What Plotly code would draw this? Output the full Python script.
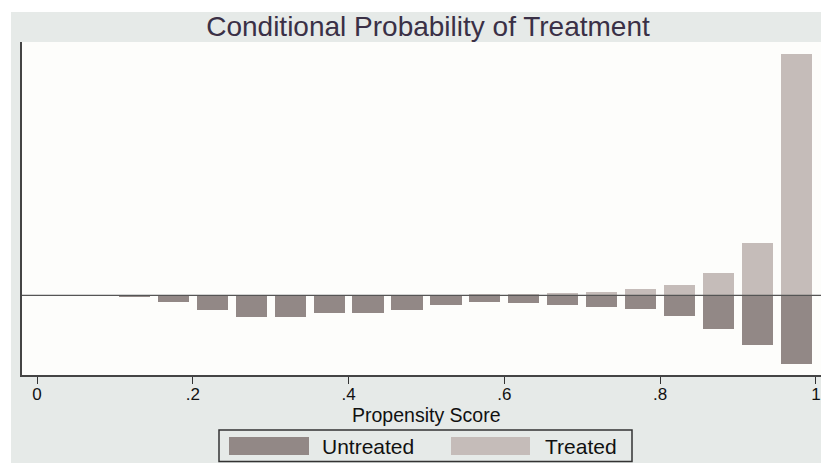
import plotly.graph_objects as go

# ---- data (bin centres of width .05, bar heights) ----
bin_centers = [0.025, 0.075, 0.125, 0.175, 0.225, 0.275, 0.325, 0.375, 0.425, 0.475,
               0.525, 0.575, 0.625, 0.675, 0.725, 0.775, 0.825, 0.875, 0.925, 0.975]
untreated = [0, 0.5, 1, 7, 15, 22, 21.5, 18, 17.4, 14.5,
             9.5, 7, 8, 9.5, 11.5, 14, 21, 33.5, 49.5, 69]
treated = [0, 0, 0, 0, 0, 0, 0, 0, 0, 0,
           0, 1.2, 1.8, 2.2, 3.8, 6.2, 10.8, 22, 52.8, 241.8]
tick_vals = [0, 0.2, 0.4, 0.6, 0.8, 1]
tick_text = ["0", ".2", ".4", ".6", ".8", "1"]
series_names = ["Untreated", "Treated"]
x_title = "Propensity Score"
chart_title = "Conditional Probability of Treatment"

# page is offset by the 8px body margin
OFF = 8
W, H = 829 - OFF, 463 - OFF
ML, MR, MT, MB = 22 - OFF, 2, 42 - OFF, 88
PW, PH = W - ML - MR, H - MT - MB

def px(x):  # reference page x pixel -> paper x
    return (x - OFF - ML) / PW

def py(y):  # reference page y pixel -> paper y
    return (H - MB - (y - OFF)) / PH

C_UNT = "#928886"
C_TRT = "#c5bcb9"
BG = "#e6eae8"
FONT = "Liberation Sans, Arial, sans-serif"

fig = go.Figure()
fig.add_trace(go.Bar(x=bin_centers, y=[-v for v in untreated], width=0.04,
                     marker=dict(color=C_UNT, line=dict(width=0)), name=series_names[0]))
fig.add_trace(go.Bar(x=bin_centers, y=treated, width=0.04,
                     marker=dict(color=C_TRT, line=dict(width=0)), name=series_names[1]))

shapes = [
    # white frame around the grey graph region
    dict(type="rect", xref="paper", yref="paper", x0=px(0), x1=px(829), y0=py(0), y1=py(12),
         fillcolor="white", line=dict(width=0), layer="below"),
    dict(type="rect", xref="paper", yref="paper", x0=px(0), x1=px(11), y0=py(0), y1=py(470),
         fillcolor="white", line=dict(width=0), layer="below"),
    # zero line
    dict(type="line", xref="paper", yref="y", x0=0, x1=1, y0=0, y1=0,
         line=dict(color="#555555", width=1.2), layer="above"),
    # legend box and swatches
    dict(type="rect", xref="paper", yref="paper", x0=px(219), x1=px(632), y0=py(461.5), y1=py(430),
         line=dict(color="#333333", width=1.5), fillcolor=BG),
    dict(type="rect", xref="paper", yref="paper", x0=px(229), x1=px(309), y0=py(455), y1=py(437),
         line=dict(width=0), fillcolor=C_UNT),
    dict(type="rect", xref="paper", yref="paper", x0=px(451), x1=px(530), y0=py(455), y1=py(437),
         line=dict(width=0), fillcolor=C_TRT),
]

annotations = [
    dict(text=series_names[0], xref="paper", yref="paper", x=px(320), y=py(446),
         xanchor="left", yanchor="middle", showarrow=False,
         font=dict(family=FONT, size=21, color="#111111")),
    dict(text=series_names[1], xref="paper", yref="paper", x=px(543), y=py(446),
         xanchor="left", yanchor="middle", showarrow=False,
         font=dict(family=FONT, size=21, color="#111111")),
    dict(text=x_title, xref="paper", yref="paper", x=px(427), y=py(415),
         xanchor="center", yanchor="middle", showarrow=False,
         font=dict(family=FONT, size=19.5, color="#111111")),
]

fig.update_layout(
    width=W, height=H,
    margin=dict(l=ML, r=MR, t=MT, b=MB, pad=0),
    paper_bgcolor=BG, plot_bgcolor="#fdfdfb",
    barmode="relative", bargap=0, showlegend=False,
    title=dict(text=chart_title, x=px(428), xanchor="center", xref="paper",
               y=1 - (26 - OFF) / H, yanchor="middle", yref="container",
               font=dict(family=FONT, size=28, color="#3a3046")),
    xaxis=dict(range=[-15 / 778.9, 790 / 778.9], tickvals=tick_vals, ticktext=tick_text,
               ticks="outside", ticklen=7, tickwidth=1.2, tickcolor="#333333",
               ticklabelstandoff=-4,
               showline=True, linecolor="#444444", linewidth=1.5, showgrid=False, zeroline=False,
               tickfont=dict(family=FONT, size=17, color="#111111")),
    yaxis=dict(range=[-79.7, 253.3], showticklabels=False, ticks="", showgrid=False,
               zeroline=False, showline=True, linecolor="#444444", linewidth=1.5),
    shapes=shapes, annotations=annotations,
)

fig.write_html("out.html")
